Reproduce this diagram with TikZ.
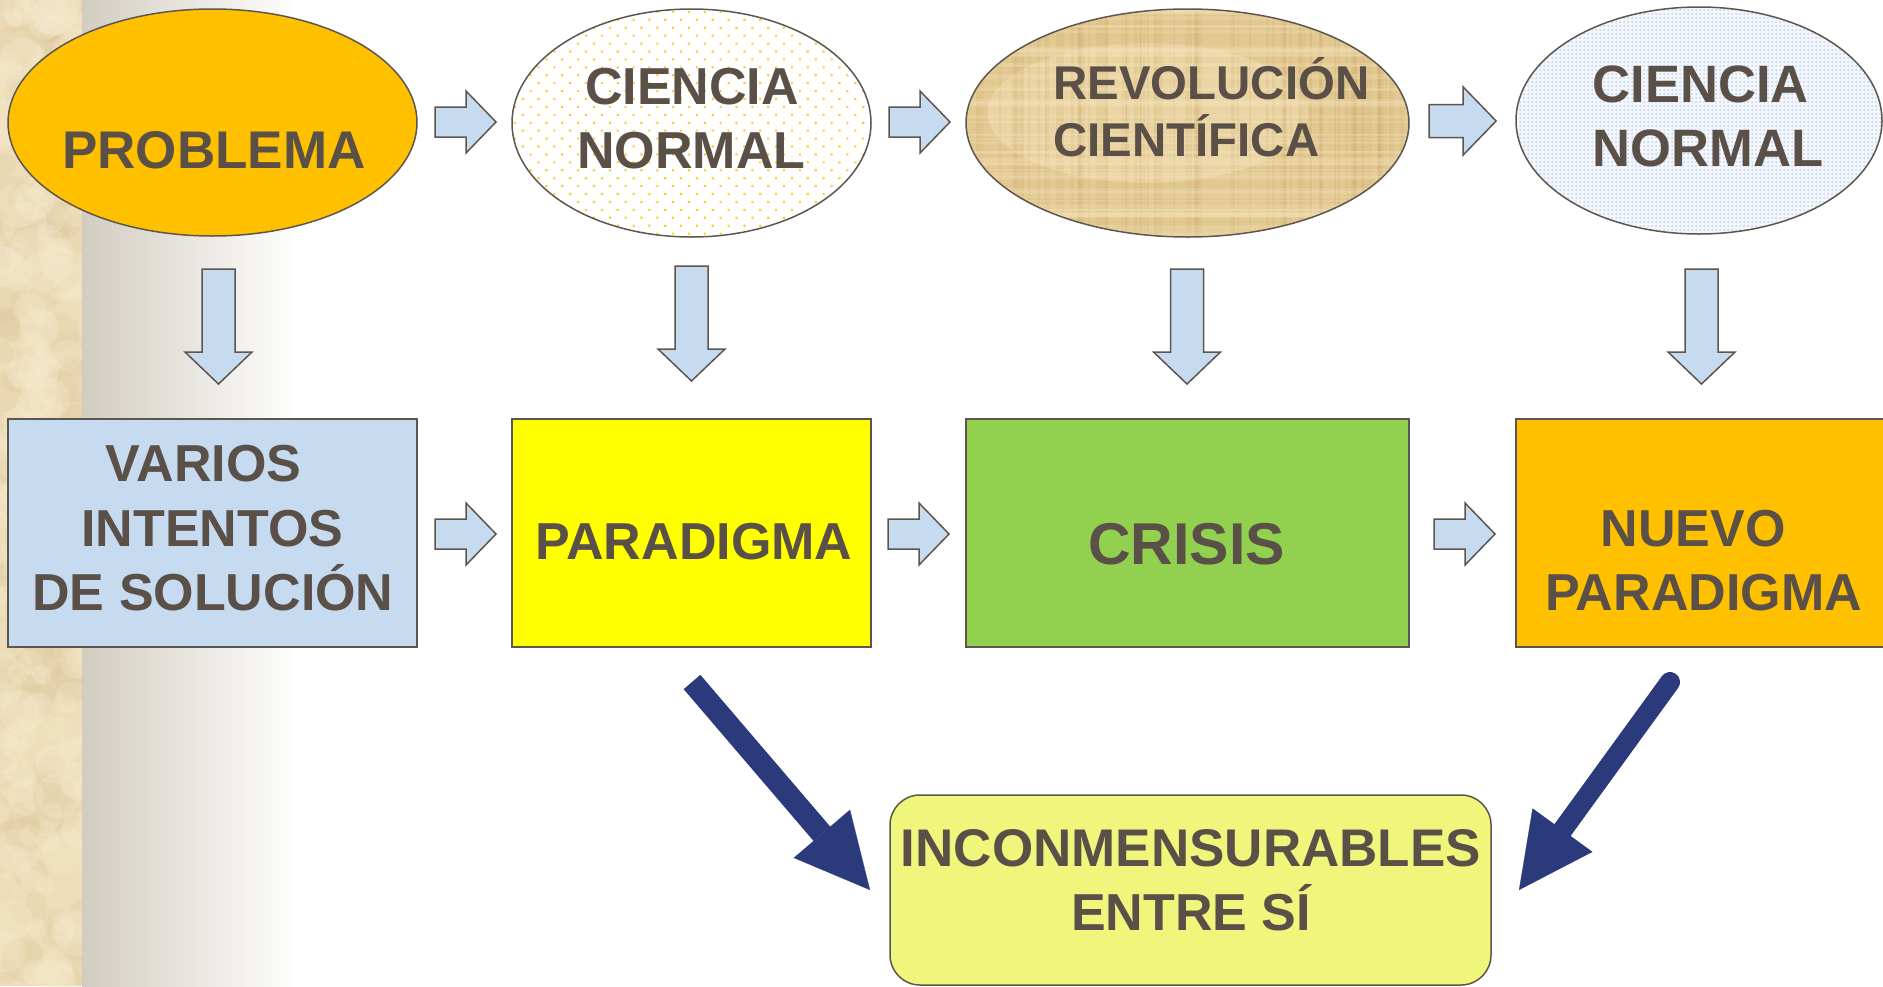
\documentclass[tikz,border=0pt]{standalone}
\usepackage{fontspec}
\setmainfont{Liberation Sans}
\usetikzlibrary{shapes.geometric,arrows.meta,patterns.meta}
\definecolor{tcol}{HTML}{5A5048}
\definecolor{ocol}{HTML}{5E564E}
\definecolor{lblue}{HTML}{C6DBEF}
\definecolor{gold}{HTML}{FFC000}
\definecolor{grn}{HTML}{92D050}
\definecolor{ylw}{HTML}{FFFF00}
\definecolor{lime}{HTML}{F0F67B}
\definecolor{navy}{HTML}{2B3A7A}
\definecolor{pap}{HTML}{E2C891}
\definecolor{papD}{HTML}{C4A262}
\definecolor{papL}{HTML}{F6E6BE}
\definecolor{strip}{HTML}{EDDDB8}
\definecolor{stripD}{HTML}{D9C194}
\definecolor{stripL}{HTML}{F8ECD2}
\definecolor{grad}{HTML}{D2CDC1}
\definecolor{dotO}{HTML}{FFCC33}
\definecolor{dotB}{HTML}{BCD3EE}
\definecolor{efill}{HTML}{F4F8FC}
\newcommand\myfs[1]{\fontsize{#1}{#1}\selectfont}
\begin{document}
\begin{tikzpicture}[x=0.5pt,y=-0.5pt,
 outl/.style={draw=ocol, line width=0.75pt},
 ell/.style={outl, ellipse, inner sep=0pt},
 box/.style={outl, rectangle, inner sep=0pt, minimum height=114pt},
 txt/.style={text=tcol, inner sep=0pt, anchor=base, font=\bfseries\myfs{26pt}},
 blk/.style={draw=ocol, line width=0.75pt, fill=lblue, line join=miter},
 navyarrow/.style={draw=navy, line width=11pt, -{Triangle[width=37pt,length=37pt,line width=0.1pt]}},
 rblock/.pic={\draw[blk] (0,-15) -- (31,-15) -- (31,-31) -- (61,0) -- (31,31) -- (31,15) -- (0,15) -- cycle;},
 dblock/.pic={\draw[blk] (-16.5,0) -- (16.5,0) -- (16.5,83) -- (33.5,83) -- (0,115) -- (-33.5,83) -- (-16.5,83) -- cycle;}
]
\useasboundingbox (0,0) rectangle (1883,986);
\clip (0,0) rectangle (1883,986);
% background
\fill[white] (0,0) rectangle (1883,986);
\shade[left color=grad, right color=white] (82,0) rectangle (300,986);
\begin{scope}
 \clip (0,0) rectangle (82,986);
 \fill[strip] (0,0) rectangle (82,986);
 \pgfmathsetseed{11}
 \foreach \i in {1,...,160}{
   \pgfmathsetmacro\px{82*rnd}
   \pgfmathsetmacro\py{986*rnd}
   \pgfmathsetmacro\pr{8+16*rnd}
   \fill[stripD, opacity=0.15] (\px,\py) circle [radius=\pr];
 }
 \foreach \i in {1,...,160}{
   \pgfmathsetmacro\px{82*rnd}
   \pgfmathsetmacro\py{986*rnd}
   \pgfmathsetmacro\pr{8+16*rnd}
   \fill[stripL, opacity=0.25] (\px,\py) circle [radius=\pr];
 }
\end{scope}

% ellipses
\node[ell, fill=gold, minimum width=204.5pt, minimum height=113.5pt] (e1) at (212.5,122.5) {};
\node[ell, preaction={fill=white}, pattern={Dots[distance=5.6pt,angle=45,radius=0.75pt]}, pattern color=dotO, minimum width=179.5pt, minimum height=114pt] (e2) at (691.5,123) {};
\node[ell, fill=pap, minimum width=221.5pt, minimum height=114pt,
  path picture={
   \fill[papL, opacity=0.4] (-40,-10) ellipse [x radius=160, y radius=70];
   \foreach \i in {1,...,90}{
    \pgfmathsetmacro\px{-222+443*rnd}
    \pgfmathsetmacro\lw{0.5+2*rnd}
    \draw[papD, opacity=0.14, line width=\lw pt] (\px,-130) -- (\px,130);
   }
   \foreach \i in {1,...,60}{
    \pgfmathsetmacro\py{-114+228*rnd}
    \pgfmathsetmacro\lw{0.5+2*rnd}
    \draw[papL, opacity=0.25, line width=\lw pt] (-230,\py) -- (230,\py);
   }
  }] (e3) at (1187.5,123) {};
\node[ell, preaction={fill=efill}, pattern={Dots[distance=2pt,radius=0.5pt]}, pattern color=dotB, minimum width=183pt, minimum height=113.5pt] (e4) at (1699,120.5) {};

% boxes
\node[box, fill=lblue, minimum width=204.5pt] (b1) at (212.5,533) {};
\node[box, fill=ylw, minimum width=179.5pt] (b2) at (691.5,533) {};
\node[box, fill=grn, minimum width=221.5pt] (b3) at (1187.5,533) {};
\node[box, fill=gold, minimum width=187pt] (b4) at (1703,533) {};
\node[outl, rectangle, rounded corners=15pt, fill=lime, minimum width=300.5pt, minimum height=95pt, inner sep=0pt] (b5) at (1190.5,890) {};

% block arrows
\pic at (435,122) {rblock};
\pic at (889,122) {rblock};
\pic[scale=1.1] at (1429,121) {rblock};
\pic at (435,534) {rblock};
\pic at (888,534) {rblock};
\pic at (1434,534) {rblock};
\pic at (218.5,269) {dblock};
\pic at (691.5,266) {dblock};
\pic at (1187,269) {dblock};
\pic at (1701.5,269) {dblock};

% texts
\node[txt, font=\bfseries\myfs{26.5pt}] (t1) at (214,168) {PROBLEMA};
\node[txt] (t2a) at (692,104) {CIENCIA};
\node[txt] (t2b) at (691.5,168) {NORMAL};
\node[txt, anchor=base west, font=\bfseries\myfs{23.7pt}] (t3a) at (1053,99) {REVOLUCIÓN};
\node[txt, anchor=base west, font=\bfseries\myfs{23.7pt}] (t3b) at (1053,156) {CIENTÍFICA};
\node[txt, anchor=base west, font=\bfseries\myfs{26.3pt}] (t4a) at (1592,102) {CIENCIA};
\node[txt, anchor=base west, font=\bfseries\myfs{26.3pt}] (t4b) at (1592,166) {NORMAL};
\node[txt] (t5a) at (203.5,481.5) {VARIOS};
\node[txt] (t5b) at (212.5,546) {INTENTOS};
\node[txt] (t5c) at (213,610) {DE SOLUCIÓN};
\node[txt] (t6) at (694,559) {PARADIGMA};
\node[txt, font=\bfseries\myfs{29.5pt}] (t7) at (1186.5,564) {CRISIS};
\node[txt] (t8a) at (1693,546.5) {NUEVO};
\node[txt] (t8b) at (1703.5,610) {PARADIGMA};
\node[txt, font=\bfseries\myfs{26.5pt}] (t9a) at (1191,866) {INCONMENSURABLES};
\node[txt] (t9b) at (1191,930) {ENTRE SÍ};

% navy arrows
\coordinate (n1s) at (692,682);
\coordinate (n1e) at (870,890);
\draw[navyarrow] (n1s) -- (n1e);
\coordinate (n2s) at (1670,682);
\coordinate (n2e) at (1519,890);
\draw[navyarrow, line width=10pt, line cap=round] (n2s) -- (n2e);
\end{tikzpicture}
\end{document}
